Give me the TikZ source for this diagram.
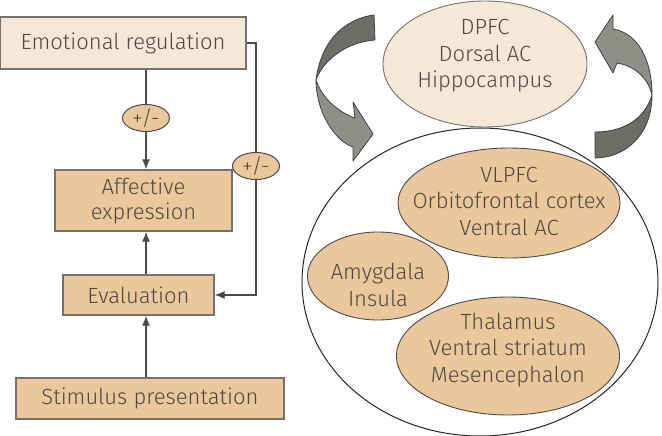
\documentclass[tikz,border=0pt]{standalone}
\usepackage{fontspec}
\setmainfont{Fira Sans Light}
\usetikzlibrary{shapes.geometric,arrows.meta}
\definecolor{tanfill}{HTML}{EBC89C}
\definecolor{lightfill}{HTML}{F5E8D8}
\definecolor{txtc}{HTML}{4F4842}
\definecolor{edgec}{HTML}{77716B}
\definecolor{linec}{HTML}{4A4A4A}
\definecolor{arrlight}{HTML}{8F8F87}
\definecolor{arrdark}{HTML}{6D6D66}
\begin{document}
\begin{tikzpicture}[x=1pt,y=-1pt,
  box/.style={draw=edgec,line width=1.3pt,fill=tanfill,text=txtc,inner sep=0pt,align=center,font=\fontsize{22}{25}\selectfont},
  pm/.style={ellipse,draw=linec,line width=1pt,fill=tanfill,text=txtc,inner sep=0pt,minimum width=47pt,minimum height=27pt,font=\fontsize{21}{21}\selectfont},
  region/.style={ellipse,draw=linec,line width=0.9pt,fill=tanfill,inner sep=0pt},
  rtext/.style={text=txtc,align=center,font=\fontsize{22}{26.5}\selectfont,inner sep=0pt},
  conn/.style={draw=linec,line width=1.3pt},
  tip/.style={-{Latex[length=10pt,width=8pt]}},
  ribbon/.style={draw=black!75,line width=0.8pt,line join=round}
]
\useasboundingbox (0,0) rectangle (662,436);

% left flow
\node[box,fill=lightfill,minimum width=246pt,minimum height=52pt] (emo) at (123,43) {Emotional regulation};
\node[box,minimum width=177pt,minimum height=61pt] (aff) at (143.5,200.5) {Affective\\expression};
\node[box,minimum width=151pt,minimum height=40pt] (eval) at (138.5,295) {Evaluation};
\node[box,minimum width=268pt,minimum height=41pt] (stim) at (150,398.5) {Stimulus presentation};

\node[pm] (pm1) at (146,118) {+/-};
\node[pm] (pm2) at (256,166) {+/-};

\draw[conn] (emo.south -| pm1) -- (pm1.north);
\draw[conn,tip] (pm1.south) -- (aff.north -| pm1);
\draw[conn,tip] (eval.north -| pm1) -- (aff.south -| pm1);
\draw[conn,tip] (stim.north -| pm1) -- (eval.south -| pm1);
\draw[conn] (emo.east) -| (pm2.north);
\draw[conn,tip] (pm2.south) |- (eval.east);

% right side
\node[ellipse,draw=edgec,line width=0.9pt,fill=lightfill,inner sep=0pt,minimum width=204pt,minimum height=126pt] (dpfc) at (485,64) {};
\node[rtext] (dpfct) at (485,56) {DPFC\\Dorsal AC\\Hippocampus};

\node[ellipse,draw=black!85,line width=1pt,inner sep=0pt,minimum width=356pt,minimum height=308pt] (big) at (480,282) {};

\node[region,minimum width=222pt,minimum height=110pt] (vlpfc) at (509,203) {};
\node[rtext] (vlpfct) at (509,201) {VLPFC\\Orbitofrontal cortex\\Ventral AC};
\node[region,minimum width=141pt,minimum height=88pt] (amy) at (378,276) {};
\node[rtext] (amyt) at (378,285) {Amygdala\\Insula};
\node[region,minimum width=223pt,minimum height=118pt] (thal) at (508,356) {};
\node[rtext] (thalt) at (508,350) {Thalamus\\Ventral striatum\\Mesencephalon};

% left curved arrow: upper (dark) part, then lower (light) part with head
\path[ribbon,fill=arrdark] (374,15) .. controls (350,18) and (322,35) .. (316,80)
  .. controls (322,62) and (345,42) .. (375,40) -- cycle;
\path[ribbon,fill=arrlight] (316,80) .. controls (316,110) and (333,140) .. (353,147)
  -- (353,161) -- (373,134) -- (353,102) -- (355,118)
  .. controls (338,112) and (322,98) .. (316,80) -- cycle;
% right curved arrow: upper (light) part with head, then lower (dark) part
\path[ribbon,fill=arrlight] (652,95) .. controls (652,60) and (638,33) .. (613,29)
  -- (613,15) -- (595,42) -- (613,73) -- (617,63)
  .. controls (635,66) and (648,78) .. (652,95) -- cycle;
\path[ribbon,fill=arrdark] (652,95) .. controls (652,135) and (625,158) .. (595,158)
  -- (595,132) .. controls (625,132) and (645,118) .. (652,95) -- cycle;
\end{tikzpicture}
\end{document}
